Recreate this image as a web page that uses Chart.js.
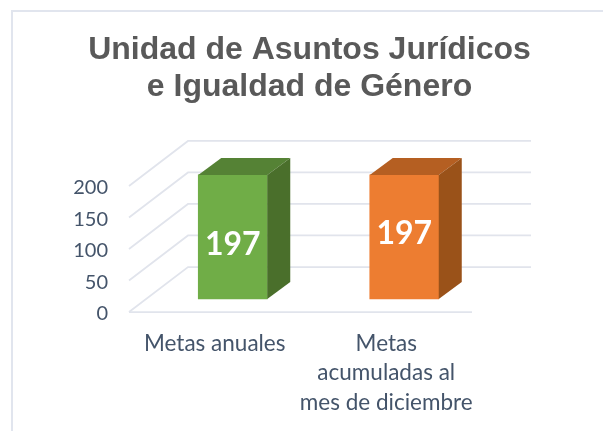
<!DOCTYPE html>
<html lang="es">
<head>
<meta charset="utf-8">
<title>Unidad de Asuntos Jurídicos e Igualdad de Género</title>
<script src="https://cdn.jsdelivr.net/npm/chart.js@4"></script>
<style>
    html, body { margin: 0; padding: 0; background: #ffffff; }
    #frame { position: absolute; left: 11px; top: 10px; right: 0; bottom: 0; border-left: 2px solid #e1e5ee; border-top: 2px solid #e1e5ee; }
    canvas { position: absolute; left: 0; top: 0; }
</style>
</head>
<body>
<div id="frame"></div>
<canvas id="chart" width="603" height="431"></canvas>
<script>
"use strict";

/* chart data */
const titleLines = ["Unidad de Asuntos Jurídicos", "e Igualdad de Género"];
const categories = [["Metas anuales"], ["Metas", "acumuladas al", "mes de diciembre"]];
const barValues = [197, 197];
const axisTicks = [0, 50, 100, 150, 200];

/* bar colours: front, top, side */
const frontColors = ["#70ad47", "#ed7d31"];
const topColors = ["#558235", "#b55f22"];
const sideColors = ["#4a6f2b", "#9a5219"];
const labelShifts = [8, -3];

/* fake 3D depth of the floor and of the bars */
const wallDx = 59;
const wallDy = -45;
const barDx = 23;
const barDy = -17;

function polygon(ctx, points, color) {
    ctx.fillStyle = color;
    ctx.beginPath();
    points.forEach((p, i) => {
        if (i === 0) ctx.moveTo(p[0], p[1]);
        else ctx.lineTo(p[0], p[1]);
    });
    ctx.closePath();
    ctx.fill();
}

const wallPlugin = {
    id: "wall",
    beforeDatasetsDraw(chart) {
        const ctx = chart.ctx;
        const area = chart.chartArea;
        const yScale = chart.scales.y;
        ctx.save();
        ctx.strokeStyle = "#e1e4ec";
        ctx.lineWidth = 1.75;
        axisTicks.forEach((tick) => {
            const y = yScale.getPixelForValue(tick);
            ctx.beginPath();
            ctx.moveTo(area.left, y);
            ctx.lineTo(area.left + wallDx, y + wallDy);
            ctx.lineTo(area.right + wallDx, y + wallDy);
            ctx.stroke();
        });
        const floor = yScale.getPixelForValue(0);
        ctx.beginPath();
        ctx.moveTo(area.left, floor);
        ctx.lineTo(area.right, floor);
        ctx.stroke();
        ctx.restore();
    }
};

const barDepthPlugin = {
    id: "barDepth",
    afterDatasetsDraw(chart) {
        const ctx = chart.ctx;
        ctx.save();
        chart.getDatasetMeta(0).data.forEach((bar, i) => {
            const left = bar.x - bar.width / 2;
            const right = bar.x + bar.width / 2;
            polygon(ctx, [
                [left, bar.y],
                [left + barDx, bar.y + barDy],
                [right + barDx, bar.y + barDy],
                [right, bar.y]
            ], topColors[i]);
            polygon(ctx, [
                [right, bar.y],
                [right + barDx, bar.y + barDy],
                [right + barDx, bar.base + barDy],
                [right, bar.base]
            ], sideColors[i]);

            ctx.fillStyle = "#ffffff";
            ctx.font = "bold 32px Lato";
            ctx.textAlign = "center";
            ctx.textBaseline = "middle";
            ctx.fillText(String(barValues[i]), bar.x, (bar.y + bar.base) / 2 + labelShifts[i]);
        });
        ctx.restore();
    }
};

new Chart(document.getElementById("chart"), {
    type: "bar",
    data: {
        labels: categories,
        datasets: [
            {
                data: barValues.map((value, i) => ({ x: i, y: value })),
                backgroundColor: frontColors,
                borderWidth: 0,
                barThickness: 69,
                xAxisID: "barX",
                yAxisID: "barY"
            }
        ]
    },
    options: {
        responsive: false,
        animation: false,
        layout: {
            padding: { top: 0, right: 0, bottom: 0, left: 16 }
        },
        plugins: {
            legend: { display: false },
            tooltip: { enabled: false },
            title: {
                display: true,
                text: titleLines,
                color: "#595959",
                font: { family: "Liberation Sans", size: 32, weight: "bold", lineHeight: 1.17 },
                padding: { top: 31, bottom: 36 }
            }
        },
        scales: {
            x: {
                type: "category",
                labels: categories,
                grid: { display: false },
                border: { display: false },
                ticks: {
                    color: "#44546a",
                    font: { family: "Lato", size: 22.5, lineHeight: 1.31 },
                    maxRotation: 0,
                    autoSkip: false,
                    padding: 9
                },
                afterFit(scale) { scale.height = 119; }
            },
            y: {
                type: "linear",
                min: 0,
                max: 270,
                grid: { display: false },
                border: { display: false },
                afterBuildTicks(scale) {
                    scale.ticks = axisTicks.map((value) => ({ value: value }));
                },
                ticks: {
                    color: "#44546a",
                    font: { family: "Lato", size: 20 },
                    padding: 13,
                    labelOffset: 2
                },
                afterFit(scale) { scale.width = 113; }
            },
            /* bars stand back from the front edge of the floor */
            barX: {
                type: "linear",
                display: false,
                offset: false,
                min: -0.605,
                max: 1.395
            },
            /* blank axis on the right keeps the plot narrower than the title */
            barY: {
                type: "linear",
                position: "right",
                min: -20.6,
                max: 249.4,
                grid: { display: false },
                border: { display: false },
                ticks: { display: false },
                afterFit(scale) { scale.width = 131; }
            }
        }
    },
    plugins: [wallPlugin, barDepthPlugin]
});
</script>
</body>
</html>
